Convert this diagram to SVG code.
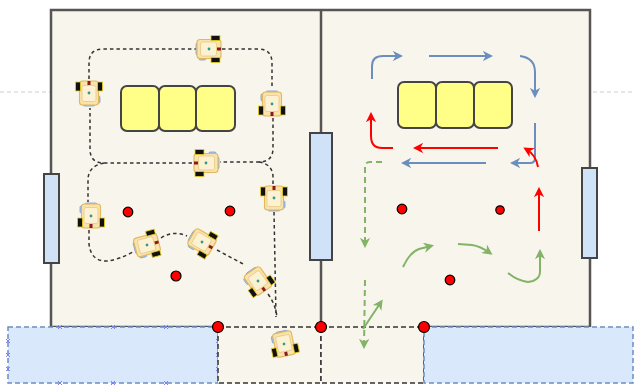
<svg xmlns="http://www.w3.org/2000/svg" xmlns:xlink="http://www.w3.org/1999/xlink" width="635" height="385" viewBox="0 0 635 385">
  <style>
    .floor { fill: #f8f5ec; stroke: none; }
    .wall { fill: none; stroke: #555; stroke-width: 2.5; }
    .door { fill: #cfe2f8; stroke: #444; stroke-width: 2; }
    .table { fill: #ffff88; stroke: #444; stroke-width: 2; }
    .zone { fill: #dae8fc; stroke: #6c8ebf; stroke-width: 1.5; stroke-dasharray: 5 3; }
    .gate { fill: #f8f5ec; stroke: #333; stroke-width: 1.5; stroke-dasharray: 5 3; }
    .guide { fill: none; stroke: #ccc; stroke-width: 1; stroke-dasharray: 4 3; }
    .route { fill: none; stroke: #333; stroke-width: 1.5; stroke-dasharray: 3.5 3; }
    .blue { fill: none; stroke: #6c8ebf; stroke-width: 2; marker-end: url(#headBlue); }
    .red { fill: none; stroke: #ff0000; stroke-width: 2; marker-end: url(#headRed); }
    .green { fill: none; stroke: #82b366; stroke-width: 2; marker-end: url(#headGreen); }
    .dashed { stroke-dasharray: 6 4; }
    .stop { fill: #ff0000; stroke: #000; stroke-width: 1.2; }
    .pin { fill: none; stroke: #7f7fff; stroke-width: 1; }
  </style>
  <defs>
    <marker id="headBlue" viewBox="0 0 10 10" refX="7" refY="5" markerWidth="5.2" markerHeight="5.2" orient="auto">
      <path d="M0,0 L10,5 L0,10 L3,5 z" fill="#6c8ebf"/>
    </marker>
    <marker id="headRed" viewBox="0 0 10 10" refX="7" refY="5" markerWidth="5.2" markerHeight="5.2" orient="auto">
      <path d="M0,0 L10,5 L0,10 L3,5 z" fill="#ff0000"/>
    </marker>
    <marker id="headGreen" viewBox="0 0 10 10" refX="7" refY="5" markerWidth="5.2" markerHeight="5.2" orient="auto">
      <path d="M0,0 L10,5 L0,10 L3,5 z" fill="#82b366"/>
    </marker>
    <!-- mobile robot, drawn facing up, centred on the origin -->
    <g id="robot">
      <rect x="-6" y="9.5" width="12" height="3.5" rx="1.5" fill="#a9c4eb" stroke="#7f9fcc" stroke-width="0.8"/>
      <rect x="8" y="3" width="3" height="7" rx="1.2" fill="#a9c4eb" stroke="#7f9fcc" stroke-width="0.8"/>
      <rect x="-9.5" y="-12" width="19" height="24" rx="3" fill="#f9e3aa" stroke="#e0b860" stroke-width="1.1"/>
      <rect x="-7" y="-7.5" width="14" height="16" rx="2" fill="#fcf1d2" stroke="#e9c984" stroke-width="0.8"/>
      <rect x="-13.5" y="-11" width="5" height="9" fill="#111" stroke="#e8d020" stroke-width="0.8"/>
      <rect x="8.5" y="-11" width="5" height="9" fill="#111" stroke="#e8d020" stroke-width="0.8"/>
      <rect x="-1.5" y="-12" width="3" height="4" fill="#8b1a1a"/>
      <circle cx="0" cy="0" r="1.4" fill="#2a9d8f"/>
    </g>
  </defs>

  <!-- guide lines -->
  <line class="guide" x1="0" y1="92" x2="50" y2="92"/>
  <line class="guide" x1="593" y1="92" x2="635" y2="92"/>

  <!-- rooms -->
  <g id="room-left">
    <rect class="floor" x="51" y="10" width="270" height="317"/>
  </g>
  <g id="room-right">
    <rect class="floor" x="321" y="10" width="269" height="317"/>
  </g>
  <g id="walls">
    <path class="wall" d="M218 327 L51 327 L51 10 L590 10 L590 327 L424 327"/>
    <path class="wall" d="M321 10 L321 327"/>
  </g>

  <!-- doors -->
  <g id="door-left"><rect class="door" x="44" y="174" width="15" height="89"/></g>
  <g id="door-middle"><rect class="door" x="310" y="133" width="22" height="127"/></g>
  <g id="door-right"><rect class="door" x="582" y="168" width="15" height="90"/></g>

  <!-- tables -->
  <g id="tables-left">
    <rect class="table" x="121" y="86" width="38" height="45" rx="6"/>
    <rect class="table" x="159" y="86" width="37" height="45" rx="6"/>
    <rect class="table" x="196" y="86" width="39" height="45" rx="6"/>
  </g>
  <g id="tables-right">
    <rect class="table" x="398" y="82" width="38" height="46" rx="6"/>
    <rect class="table" x="436" y="82" width="38" height="46" rx="6"/>
    <rect class="table" x="474" y="82" width="38" height="46" rx="6"/>
  </g>

  <!-- loading zones and gates -->
  <g id="zone-left">
    <rect class="zone" x="8" y="327" width="210" height="56"/>
    <path class="pin" d="M58 325 l4 4 m0 -4 l-4 4 M111 325 l4 4 m0 -4 l-4 4 M164 325 l4 4 m0 -4 l-4 4 M58 381 l4 4 m0 -4 l-4 4 M111 381 l4 4 m0 -4 l-4 4 M164 381 l4 4 m0 -4 l-4 4 M6 339 l4 4 m0 -4 l-4 4 M6 353 l4 4 m0 -4 l-4 4 M6 367 l4 4 m0 -4 l-4 4 M216 339 l4 4 m0 -4 l-4 4 M216 353 l4 4 m0 -4 l-4 4 M216 367 l4 4 m0 -4 l-4 4"/>
  </g>
  <g id="gate-left"><rect class="gate" x="218" y="327" width="103" height="56"/></g>
  <g id="gate-right"><rect class="gate" x="321" y="327" width="103" height="56"/></g>
  <g id="zone-right"><rect class="zone" x="424" y="327" width="209" height="56"/></g>

  <!-- connectors -->
  <g id="connectors">
    <!-- robot routes, left room -->
    <path class="route" d="M89 79 L89 63 Q89 49 103 49 L197 49"/>
    <path class="route" d="M222 49 L258 49 Q272 49 272 63 L272 89"/>
    <path class="route" d="M273 118 L273 148 Q273 162 259 162 L220 162"/>
    <path class="route" d="M192 163 L104 163 Q90 163 90 149 L90 108"/>
    <path class="route" d="M104 163 Q88 166 88 180 L88 202"/>
    <path class="route" d="M89 230 L89 244 Q91 262 108 261 Q120 259 133 252"/>
    <path class="route" d="M161 238 Q173 230 187 236"/>
    <path class="route" d="M217 250 L245 265"/>
    <path class="route" d="M268 294 Q276 305 277 318"/>
    <path class="route" d="M259 162 Q272 164 273 176 L273 184"/>
    <path class="route" d="M274 212 L276 317"/>

    <!-- traffic flow, right room -->
    <path class="blue" d="M372 79 L372 66 Q372 56 383 56 L400 56"/>
    <path class="blue" d="M429 56 L490 56"/>
    <path class="blue" d="M520 56 Q535 58 535 72 L535 95"/>
    <path class="blue" d="M535 123 L535 158 Q535 163 530 163 L513 163"/>
    <path class="blue" d="M486 163 L404 163"/>

    <path class="red" d="M393 148 L382 148 Q371 148 371 136 L371 115"/>
    <path class="red" d="M498 148 L416 148"/>
    <path class="red" d="M538 167 Q536 155 526 149"/>
    <path class="red" d="M539 231 L539 190"/>

    <path class="green dashed" d="M382 162 L370 162 Q365 162 365 167 L365 245"/>
    <path class="green dashed" d="M365 280 L364 346"/>
    <path class="green" d="M363 329 L381 302"/>
    <path class="green" d="M403 267 Q410 252 419 249 L431 246"/>
    <path class="green" d="M458 244 L472 245 Q480 246 490 253"/>
    <path class="green" d="M508 273 Q518 281 528 282 L533 281 Q540 278 540 272 L540 252"/>
  </g>

  <!-- robots -->
  <g id="robot-1"><use href="#robot" transform="translate(89,93)"/></g>
  <g id="robot-2"><use href="#robot" transform="translate(209,49) rotate(90)"/></g>
  <g id="robot-3"><use href="#robot" transform="translate(272,104) rotate(180)"/></g>
  <g id="robot-4"><use href="#robot" transform="translate(206,163) rotate(-90)"/></g>
  <g id="robot-5"><use href="#robot" transform="translate(274,198)"/></g>
  <g id="robot-6"><use href="#robot" transform="translate(91,216) rotate(180)"/></g>
  <g id="robot-7"><use href="#robot" transform="translate(147,245) rotate(75)"/></g>
  <g id="robot-8"><use href="#robot" transform="translate(202,242) rotate(120)"/></g>
  <g id="robot-9"><use href="#robot" transform="translate(258,281) rotate(145)"/></g>
  <g id="robot-10"><use href="#robot" transform="translate(284,344) rotate(168)"/></g>

  <!-- stop points -->
  <g id="stops">
    <circle class="stop" cx="128" cy="212" r="4.8"/>
    <circle class="stop" cx="230" cy="211" r="4.8"/>
    <circle class="stop" cx="176" cy="276" r="5"/>
    <circle class="stop" cx="402" cy="209" r="4.8"/>
    <circle class="stop" cx="500" cy="210" r="4.2"/>
    <circle class="stop" cx="450" cy="280" r="4.8"/>
    <circle class="stop" cx="218" cy="327" r="5.5"/>
    <circle class="stop" cx="321" cy="327" r="5.5"/>
    <circle class="stop" cx="424" cy="327" r="5.5"/>
  </g>
</svg>
